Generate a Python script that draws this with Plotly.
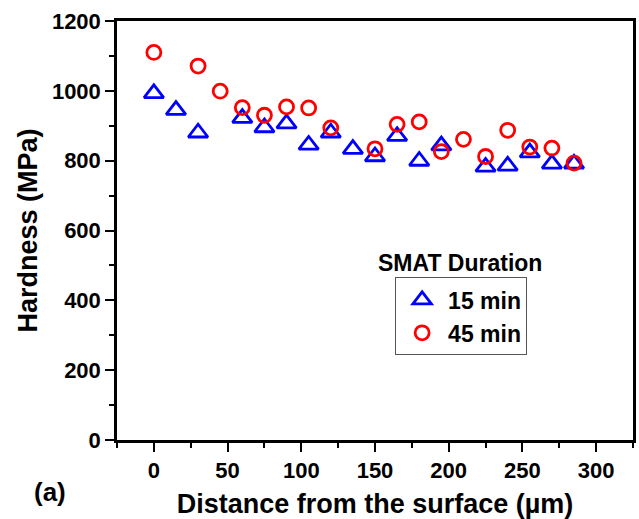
import plotly.graph_objects as go

x15 = [0, 15, 30, 60, 75, 90, 105, 120, 135, 150, 165, 180, 195, 225, 240, 255, 270, 285]
h15 = [993, 945, 880, 922, 895, 906, 845, 880, 833, 812, 870, 799, 843, 782, 785, 823, 791, 791]
x45 = [0, 30, 45, 60, 75, 90, 105, 120, 150, 165, 180, 195, 210, 225, 240, 255, 270, 285]
h45 = [1110, 1071, 999, 952, 930, 954, 951, 894, 834, 904, 911, 826, 861, 812, 887, 839, 836, 793]
names = ["15 min", "45 min"]

FONT = "Liberation Sans, Arial, sans-serif"

fig = go.Figure()
fig.add_trace(go.Scatter(x=x15, y=h15, mode="markers", name=names[0],
                         marker=dict(symbol="triangle-up-open", size=17, color="#0000ff",
                                     line=dict(width=2.8, color="#0000ff"))))
fig.add_trace(go.Scatter(x=x45, y=h45, mode="markers", name=names[1],
                         marker=dict(symbol="circle-open", size=14, color="#ff0000",
                                     line=dict(width=2.8, color="#ff0000"))))

axis_common = dict(showgrid=False, zeroline=False, showline=True, linecolor="black",
                   linewidth=2.5, mirror=True, ticks="outside", ticklen=9, tickwidth=2,
                   tickcolor="black", automargin=False,
                   tickfont=dict(family=FONT, size=22, color="black", weight="bold"))

fig.update_xaxes(range=[-25, 325], tick0=0, dtick=50,
                 minor=dict(ticks="outside", ticklen=5, tickwidth=2, dtick=25, tick0=0, tickcolor="black"),
                 title=dict(text="<b>Distance from the surface (µm)</b>",
                            font=dict(family=FONT, size=27, color="black"), standoff=12),
                 **axis_common)
fig.update_yaxes(range=[0, 1200], tick0=0, dtick=200,
                 minor=dict(ticks="outside", ticklen=5, tickwidth=2, dtick=100, tick0=0, tickcolor="black"),
                 title=dict(text="<b>Hardness (MPa)</b>",
                            font=dict(family=FONT, size=27, color="black"), standoff=7),
                 **axis_common)

fig.add_annotation(text="<b>SMAT Duration</b>", xref="paper", yref="paper",
                   x=0.665, y=0.4224, xanchor="center", yanchor="middle", showarrow=False,
                   font=dict(family=FONT, size=23, color="black"))
fig.add_annotation(text="<b>(a)</b>", xref="paper", yref="paper",
                   x=-0.13, y=-0.125, xanchor="center", yanchor="middle", showarrow=False,
                   font=dict(family=FONT, size=26, color="black"))

fig.update_layout(
    width=639, height=519,
    margin=dict(l=117, r=6, t=21, b=79),
    paper_bgcolor="white", plot_bgcolor="white",
    showlegend=True,
    legend=dict(x=0.539, y=0.388, xanchor="left", yanchor="top",
                bordercolor="#555555", borderwidth=1, bgcolor="rgba(0,0,0,0)",
                font=dict(family=FONT, size=23, color="black", weight="bold"),
                itemwidth=42, tracegroupgap=0),
)

fig.write_html("out.html", config={"displayModeBar": False},
               post_script="document.body.style.margin='0';")
